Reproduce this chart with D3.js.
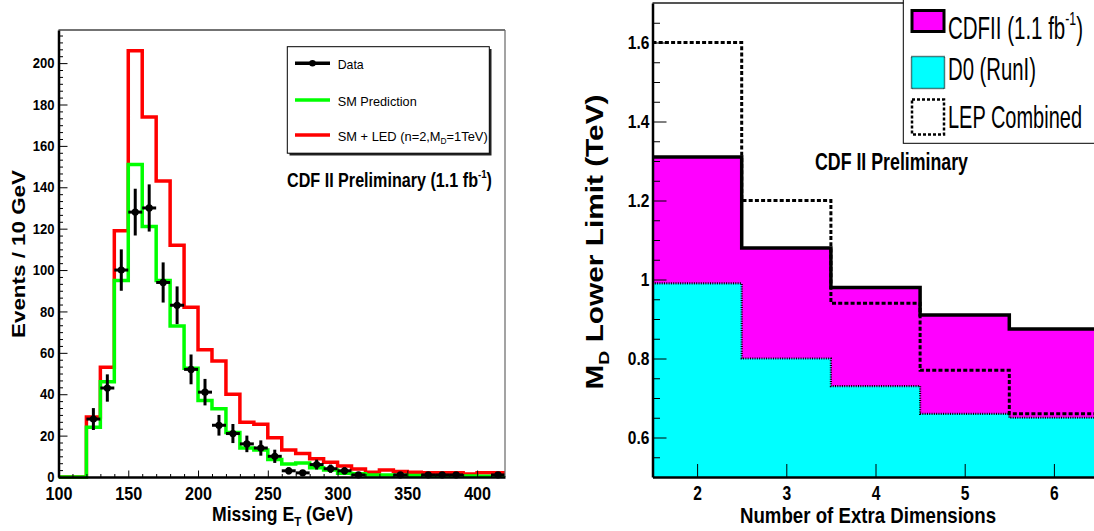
<!DOCTYPE html>
<html>
<head>
<meta charset="utf-8">
<script src="https://cdn.jsdelivr.net/npm/d3@7"></script>
<style>
body { margin: 0; background: #fff; }
svg { display: block; font-family: "Liberation Sans", Arial, Helvetica, sans-serif; }
</style>
</head>
<body>
<svg id="chart" width="1094" height="531"></svg>
<script>
// ---- left panel: missing ET spectrum (10 GeV bins, lower edges) ----
var binLow = [100, 110, 120, 130, 140, 150, 160, 170, 180, 190, 200, 210, 220, 230, 240, 250,
              260, 270, 280, 290, 300, 310, 320, 330, 340, 350, 360, 370, 380, 390, 400, 410];
var smPrediction = [0, 0, 24, 46, 95, 151, 121, 95, 73, 52.5, 37, 33, 21.5, 14, 13, 8.5,
                    6.3, 6.8, 4.5, 3.4, 1.8, 1.6, 1, 1, 0.8, 0.7, 0.6, 0.6, 0.5, 0.5, 0.4, 0.4];
var smPlusLed = [0, 0, 29, 53, 119, 206, 174, 143, 112, 82, 61.5, 56, 40, 26.5, 25.5, 19,
                 13, 11.4, 8.8, 7.1, 5.3, 3.9, 2.3, 3.4, 2.6, 2.3, 2, 2, 2, 1.4, 2, 2];
var dataCenter = [105, 115, 125, 135, 145, 155, 165, 175, 185, 195, 205, 215, 225, 235, 245, 255,
                  265, 275, 285, 295, 305, 315, 325, 335, 345, 355, 365, 375, 385, 395, 405, 415];
var dataCount = [0, 0, 28, 43, 100, 128, 130, 94, 83, 52, 41, 25, 21, 16, 14, 10,
                 3, 2, 6, 4, 3, 1, 0, 0, 1, 0, 1, 1, 1, 0, 0, 1];
var dataError = [0, 0, 5.3, 6.6, 10, 11.3, 11.4, 9.7, 9.1, 7.2, 6.4, 5, 4.6, 4, 3.7, 3.2,
                 1.7, 1.4, 2.4, 2, 1.7, 1, 0, 0, 1, 0, 1, 1, 1, 0, 0, 1];
var xTicksLeft = [100, 150, 200, 250, 300, 350, 400];
var yTicksLeft = [0, 20, 40, 60, 80, 100, 120, 140, 160, 180, 200];

// ---- right panel: MD lower limits vs number of extra dimensions ----
var nDims = [2, 3, 4, 5, 6];
var cdfLimit = [1.31, 1.08, 0.98, 0.91, 0.875];
var d0Limit = [0.99, 0.80, 0.73, 0.66, 0.65];
var lepLimit = [1.6, 1.2, 0.94, 0.77, 0.66];
var yTicksRight = [0.6, 0.8, 1, 1.2, 1.4, 1.6];

var svg = d3.select("#chart");

// squeeze text horizontally (the original uses a narrow Helvetica)
function squeeze(sel, sx) {
    sel.each(function() {
        var t = d3.select(this);
        var x = +t.attr("x") || 0;
        t.attr("x", x / sx).attr("transform", "scale(" + sx + ",1)");
    });
}

function label(g, x, y, parts, o) {
    var t = g.append("text")
        .attr("transform", "translate(" + x + "," + y + ")" + (o.rotate ? " rotate(" + o.rotate + ")" : ""))
        .attr("font-size", o.size)
        .attr("font-weight", o.bold ? "bold" : "normal")
        .attr("text-anchor", o.anchor || "start");
    parts.forEach(function(p) {
        if (typeof p === "string") p = {t: p};
        var ts = t.append("tspan").text(p.t);
        if (p.sub) ts.attr("font-size", o.size * 0.65).attr("dy", o.size * 0.25);
        if (p.sup) ts.attr("font-size", o.size * 0.6).attr("dy", -o.size * 0.45);
        if (p.back) ts.attr("dy", p.back);
    });
    if (o.len) t.attr("textLength", o.len).attr("lengthAdjust", "spacingAndGlyphs");
    return t;
}

// ================= LEFT PANEL =================
var xL = d3.scaleLinear().domain([100, 420]).range([58.5, 505]);
var yL = d3.scaleLinear().domain([0, 216]).range([477, 30]);
var left = svg.append("g");

function stepLine(xs, vs, x, y, lastEdge) {
    var pts = xs.map(function(v, i) { return [v, vs[i]]; });
    pts.push([lastEdge, vs[vs.length - 1]]);
    return d3.line().x(function(d) { return x(d[0]); }).y(function(d) { return y(d[1]); })
        .curve(d3.curveStepAfter)(pts);
}

left.append("path").attr("d", stepLine(binLow, smPlusLed, xL, yL, 420))
    .attr("fill", "none").attr("stroke", "#ff0000").attr("stroke-width", 3.5);
left.append("path").attr("d", stepLine(binLow, smPrediction, xL, yL, 420))
    .attr("fill", "none").attr("stroke", "#00ff00").attr("stroke-width", 3.5);

// data points with error bars
var pts = dataCenter.map(function(c, i) { return {x: c, n: dataCount[i], e: dataError[i]}; })
    .filter(function(d) { return d.n > 0; });
var pg = left.append("g").selectAll("g").data(pts).join("g");
pg.append("line")
    .attr("x1", function(d) { return xL(d.x - 5); }).attr("x2", function(d) { return xL(d.x + 5); })
    .attr("y1", function(d) { return yL(d.n); }).attr("y2", function(d) { return yL(d.n); })
    .attr("stroke", "#000").attr("stroke-width", 3);
pg.append("line")
    .attr("x1", function(d) { return xL(d.x); }).attr("x2", function(d) { return xL(d.x); })
    .attr("y1", function(d) { return yL(d.n - d.e); }).attr("y2", function(d) { return yL(d.n + d.e); })
    .attr("stroke", "#000").attr("stroke-width", 3);
pg.append("circle")
    .attr("cx", function(d) { return xL(d.x); }).attr("cy", function(d) { return yL(d.n); })
    .attr("r", 3.6).attr("fill", "#000");

// frame
left.append("line").attr("x1", 58.5).attr("x2", 505).attr("y1", 30).attr("y2", 30)
    .attr("stroke", "#444").attr("stroke-width", 1.5);
left.append("line").attr("x1", 505).attr("x2", 505).attr("y1", 30).attr("y2", 477)
    .attr("stroke", "#666").attr("stroke-width", 1.2);

// axes
var yMinorL = d3.range(0, 216, 20 / 6).filter(function(v) { return Math.abs(v / 20 - Math.round(v / 20)) > 0.01; });
left.append("g").attr("transform", "translate(58.5,0)")
    .call(d3.axisLeft(yL).tickValues(yMinorL).tickSize(-4.5).tickFormat(""))
    .call(function(g) { g.select(".domain").remove(); });
var yaL = left.append("g").attr("transform", "translate(58.5,0)")
    .call(d3.axisLeft(yL).tickValues(yTicksLeft).tickSize(-9).tickSizeOuter(0).tickPadding(4));
yaL.select(".domain").attr("stroke-width", 2.5);
yaL.selectAll("text").attr("font-size", 14.5).attr("font-weight", "bold").attr("fill", "#000")
    .attr("font-family", "Liberation Sans, Arial, sans-serif");
squeeze(yaL.selectAll("text"), 0.9);

var xMinorL = d3.range(110, 420, 10).filter(function(v) { return v % 50 !== 0; });
left.append("g").attr("transform", "translate(0,477)")
    .call(d3.axisBottom(xL).tickValues(xMinorL).tickSize(-3).tickFormat(""))
    .call(function(g) { g.select(".domain").remove(); });
var xaL = left.append("g").attr("transform", "translate(0,477)")
    .call(d3.axisBottom(xL).tickValues(xTicksLeft).tickSize(-6.5).tickSizeOuter(0));
xaL.select(".domain").attr("stroke-width", 2.5);
xaL.selectAll("text").attr("y", 23).attr("dy", 0).attr("font-size", 19).attr("font-weight", "bold")
    .attr("fill", "#000").attr("font-family", "Liberation Sans, Arial, sans-serif");
squeeze(xaL.selectAll("text"), 0.85);

label(left, 25, 254, ["Events / 10 GeV"], {size: 19, bold: true, anchor: "middle", rotate: -90, len: 168});
label(left, 212, 521, ["Missing E", {t: "T", sub: true}, {t: " (GeV)", back: -21 * 0.25}],
    {size: 21, bold: true, len: 141});

// legend
var lg = left.append("g");
lg.append("rect").attr("x", 289.5).attr("y", 49).attr("width", 202).attr("height", 106.5).attr("fill", "#222");
lg.append("rect").attr("x", 287.3).attr("y", 46.7).attr("width", 202).attr("height", 106.5)
    .attr("fill", "#fff").attr("stroke", "#000").attr("stroke-width", 1);
var legL = [
    {name: ["Data"], color: "#000", y: 63.3, len: 26, marker: true},
    {name: ["SM Prediction"], color: "#00ff00", y: 100, len: 79},
    {name: ["SM + LED (n=2,M", {t: "D", sub: true}, {t: "=1TeV)", back: -13.5 * 0.25}], color: "#ff0000", y: 135, len: 150}
];
legL.forEach(function(d) {
    lg.append("line").attr("x1", 295).attr("x2", 330).attr("y1", d.y).attr("y2", d.y)
        .attr("stroke", d.color).attr("stroke-width", 3.5);
    if (d.marker) lg.append("circle").attr("cx", 312.5).attr("cy", d.y).attr("r", 3.3).attr("fill", "#000");
    label(lg, 337.7, d.y + 5.5, d.name, {size: 13.5, len: d.len});
});
label(left, 287, 186.5, ["CDF II Preliminary (1.1 fb", {t: "-1", sup: true}, {t: ")", back: 19.5 * 0.45}],
    {size: 19.5, bold: true, len: 205});

// ================= RIGHT PANEL =================
var xR = d3.scaleLinear().domain([1.5, 6.5]).range([652.5, 1098.5]);
var yR = d3.scaleLinear().domain([0.5, 1.7]).range([477, 3]);
var right = svg.append("g");

function stepPts(vs) {
    var p = nDims.map(function(n, i) { return [n - 0.5, vs[i]]; });
    p.push([nDims[nDims.length - 1] + 0.5, vs[vs.length - 1]]);
    return p;
}
var areaR = d3.area().x(function(d) { return xR(d[0]); }).y0(yR(0.5)).y1(function(d) { return yR(d[1]); })
    .curve(d3.curveStepAfter);
var lineR = d3.line().x(function(d) { return xR(d[0]); }).y(function(d) { return yR(d[1]); })
    .curve(d3.curveStepAfter);

right.append("path").attr("d", areaR(stepPts(cdfLimit))).attr("fill", "#ff00ff");
right.append("path").attr("d", areaR(stepPts(d0Limit))).attr("fill", "#00ffff");
right.append("path").attr("d", lineR(stepPts(d0Limit))).attr("fill", "none")
    .attr("stroke", "#000").attr("stroke-width", 2.2).attr("stroke-dasharray", "1,1.3");
right.append("path").attr("d", lineR(stepPts(lepLimit))).attr("fill", "none")
    .attr("stroke", "#000").attr("stroke-width", 3).attr("stroke-dasharray", "4,2.2");
right.append("path").attr("d", lineR(stepPts(cdfLimit))).attr("fill", "none")
    .attr("stroke", "#000").attr("stroke-width", 3.5);

right.append("line").attr("x1", 652.5).attr("x2", 1094).attr("y1", 3).attr("y2", 3)
    .attr("stroke", "#555").attr("stroke-width", 1.8);

var yMinorR = d3.range(0.55, 1.7, 0.05).filter(function(v) { return Math.abs(v * 5 - Math.round(v * 5)) > 0.01; });
right.append("g").attr("transform", "translate(652.5,0)")
    .call(d3.axisLeft(yR).tickValues(yMinorR).tickSize(-7.5).tickFormat(""))
    .call(function(g) { g.select(".domain").remove(); });
var yaR = right.append("g").attr("transform", "translate(652.5,0)")
    .call(d3.axisLeft(yR).tickValues(yTicksRight).tickSize(-14).tickSizeOuter(0).tickPadding(3)
        .tickFormat(function(d) { return d3.format("")(+d.toFixed(1)); }));
yaR.select(".domain").attr("stroke-width", 2.5);
yaR.selectAll("text").attr("font-size", 19).attr("font-weight", "bold").attr("fill", "#000")
    .attr("font-family", "Liberation Sans, Arial, sans-serif");
squeeze(yaR.selectAll("text"), 0.82);

var xaR = right.append("g").attr("transform", "translate(0,477)")
    .call(d3.axisBottom(xR).tickValues(nDims).tickSize(-13).tickSizeOuter(0).tickFormat(d3.format("d")));
xaR.select(".domain").attr("stroke-width", 2.5);
xaR.selectAll("text").attr("y", 23.5).attr("dy", 0).attr("font-size", 20).attr("font-weight", "bold")
    .attr("fill", "#000").attr("font-family", "Liberation Sans, Arial, sans-serif");
squeeze(xaR.selectAll("text"), 0.78);

label(right, 603, 242, ["M", {t: "D", sub: true}, {t: " Lower Limit (TeV)", back: -23 * 0.25}],
    {size: 23, bold: true, anchor: "middle", rotate: -90, len: 295});
label(right, 740, 523, ["Number of Extra Dimensions"], {size: 22, bold: true, len: 256});
label(right, 815, 170, ["CDF II Preliminary"], {size: 23, bold: true, len: 153});

// legend
var lr = right.append("g");
lr.append("rect").attr("x", 903.3).attr("y", -2).attr("width", 200).attr("height", 145.3)
    .attr("fill", "#fff").attr("stroke", "#000").attr("stroke-width", 1);
lr.append("rect").attr("x", 912).attr("y", 10.5).attr("width", 32).attr("height", 21)
    .attr("fill", "#ff00ff").attr("stroke", "#000").attr("stroke-width", 3);
lr.append("rect").attr("x", 911.5).attr("y", 56.5).attr("width", 33).attr("height", 32)
    .attr("fill", "#00ffff").attr("stroke", "#000").attr("stroke-width", 1.5).attr("stroke-dasharray", "1,1");
lr.append("rect").attr("x", 912).attr("y", 99.5).attr("width", 32).attr("height", 35)
    .attr("fill", "#fff").attr("stroke", "#000").attr("stroke-width", 2.5).attr("stroke-dasharray", "3,2");
label(lr, 948, 39, ["CDFII (1.1 fb", {t: "-1", sup: true}, {t: ")", back: 32 * 0.45}], {size: 32, len: 135});
label(lr, 948, 80, ["D0 (RunI)"], {size: 32, len: 88});
label(lr, 948, 128, ["LEP Combined"], {size: 32, len: 134});
</script>
</body>
</html>
